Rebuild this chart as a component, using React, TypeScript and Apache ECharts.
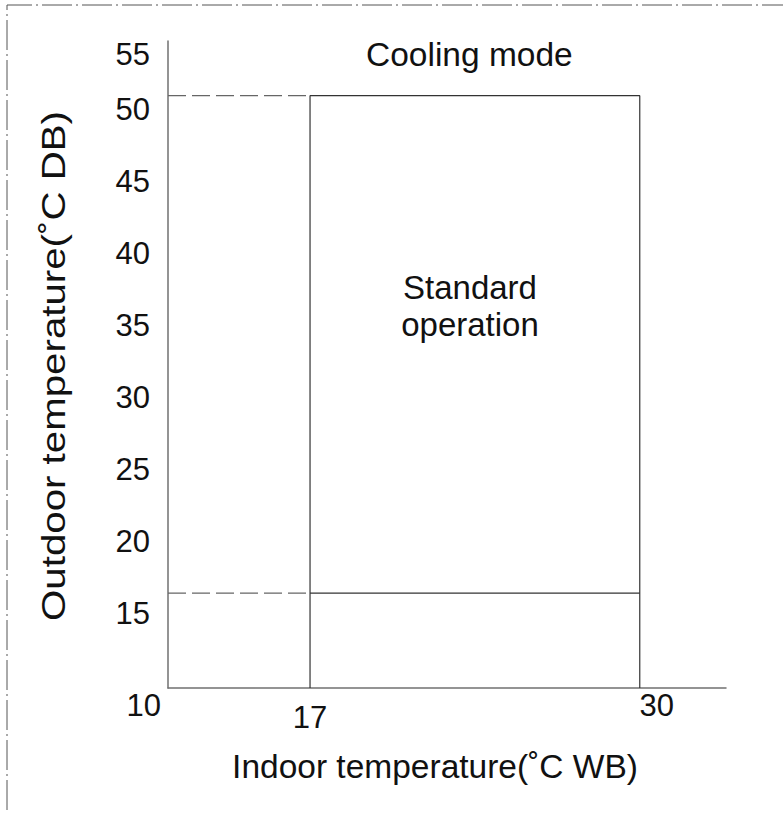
import React, { useEffect, useRef } from "react";
import * as echarts from "echarts";

// ---- data ----
const yMin = 10;
const yMax = 55;
const yInterval = 5;
const xMin = 11.4;
const xMax = 33.4;
const xTickLabels = [17, 30];
const indoorRange = [17, 30]; // °C WB
const outdoorRange = [16.6, 51.2]; // °C DB
const titleText = "Cooling mode";
const xName = "Indoor temperature(˚C WB)";
const yName = "Outdoor temperature(˚C DB)";
const areaLabel = "Standard\noperation";

const FONT = "'Liberation Sans', Arial, Helvetica, sans-serif";

export default function App() {
  const ref = useRef<HTMLDivElement>(null);
  useEffect(() => {
    if (!ref.current) return;
    const chart = echarts.init(ref.current, null, { renderer: "svg" });
    const [x0, x1] = indoorRange;
    const [y0, y1] = outdoorRange;
    const solidStyle = { color: "#333", width: 1.2 };
    const dashStyle = { color: "#666", width: 1.2, type: [18, 6] as any };
    chart.setOption({
      animation: false,
      backgroundColor: "#fff",
      textStyle: { fontFamily: FONT },
      title: {
        text: titleText,
        left: 361,
        top: 32,
        textStyle: { fontSize: 33.5, fontWeight: "normal", color: "#111", fontFamily: FONT },
      },
      grid: { left: 168, right: 57, top: 41, bottom: 130, outerBoundsMode: "none" },
      xAxis: {
        type: "value",
        min: xMin,
        max: xMax,
        name: xName,
        nameLocation: "middle",
        nameGap: 61,
        nameTextStyle: { fontSize: 33.5, color: "#111", padding: [0, 24, 0, 0], fontFamily: FONT },
        axisLine: { lineStyle: { color: "#707070", width: 1.5 } },
        axisTick: { show: false },
        splitLine: { show: false },
        axisLabel: {
          customValues: xTickLabels,
          margin: 2,
          fontSize: 31,
          color: "#111",
          fontFamily: FONT,
          formatter: (v: number) => (v === xTickLabels[0] ? `{lo|${v}}` : `{sh|${v}}`),
          rich: {
            lo: { fontSize: 31, color: "#111", padding: [12, 0, 0, 0], fontFamily: FONT },
            sh: { fontSize: 31, color: "#111", padding: [0, 0, 0, 34], fontFamily: FONT },
          },
        },
      },
      yAxis: {
        type: "value",
        min: yMin,
        max: yMax,
        interval: yInterval,
        axisLine: { show: true, lineStyle: { color: "#707070", width: 1.5 } },
        axisTick: { show: false },
        splitLine: { show: false },
        axisLabel: {
          margin: 7,
          fontSize: 31,
          color: "#111",
          fontFamily: FONT,
          formatter: (v: number) =>
            v === yMin ? `{o|${v}}` : v === yMax ? `{t|${v}}` : `{n|${v}}`,
          rich: {
            n: { fontSize: 31, color: "#111", padding: [0, 11, 6, 0], fontFamily: FONT },
            t: { fontSize: 31, color: "#111", padding: [26, 11, 0, 0], fontFamily: FONT },
            o: { fontSize: 31, color: "#111", padding: [34, 0, 0, 0], fontFamily: FONT },
          },
        },
      },
      graphic: [
        {
          type: "polyline",
          silent: true,
          shape: { points: [[7, 810], [7, 5], [783, 5]] },
          style: { stroke: "#555", lineWidth: 1, fill: null, lineDash: [30, 4, 2, 4] },
        },
        {
          type: "text",
          silent: true,
          x: 54,
          y: 366,
          rotation: Math.PI / 2,
          scaleX: 1.22,
          style: {
            text: yName,
            align: "center",
            verticalAlign: "middle",
            font: `33px ${FONT}`,
            fill: "#111",
          },
        },
        {
          type: "text",
          silent: true,
          style: {
            text: areaLabel,
            x: 470,
            y: 306,
            align: "center",
            verticalAlign: "middle",
            font: `33px ${FONT}`,
            lineHeight: 37,
            fill: "#111",
          },
        },
      ],
      series: [
        {
          type: "line",
          symbol: "none",
          lineStyle: solidStyle,
          data: [[x0, yMin], [x0, y1], [x1, y1], [x1, yMin]],
        },
        {
          type: "line",
          symbol: "none",
          lineStyle: solidStyle,
          data: [[x0, y0], [x1, y0]],
        },
        {
          type: "line",
          symbol: "none",
          lineStyle: dashStyle,
          data: [[xMin, y1], [x0, y1]],
        },
        {
          type: "line",
          symbol: "none",
          lineStyle: dashStyle,
          data: [[xMin, y0], [x0, y0]],
        },
      ],
    });
    return () => chart.dispose();
  }, []);
  return (
    <div
      ref={ref}
      style={{ position: "fixed", left: 0, top: 0, width: 783, height: 818 }}
    />
  );
}
